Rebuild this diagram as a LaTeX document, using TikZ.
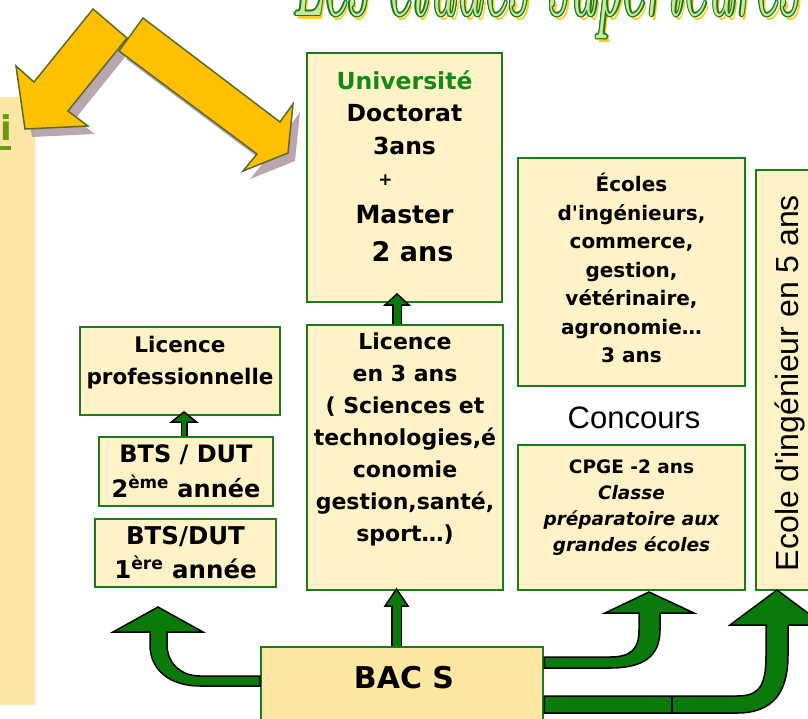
\documentclass[tikz,border=0pt]{standalone}
\usepackage{fontspec}
\newfontfamily\comicfont{DejaVu Sans}
\newfontfamily\arialfont{Liberation Sans}
\usetikzlibrary{positioning}

\definecolor{boxfill}{HTML}{FFF2C6}
\definecolor{bacfill}{HTML}{FFE6A2}
\definecolor{panelfill}{HTML}{FFE6A6}
\definecolor{boxgreen}{HTML}{1E7A1E}
\definecolor{arrowgreen}{HTML}{0A7A0A}
\definecolor{unigreen}{HTML}{148A14}
\definecolor{igreen}{HTML}{6A9A10}
\definecolor{bigyellow}{HTML}{FFC000}
\definecolor{arrowrim}{HTML}{5B6A28}
\definecolor{shadowmauve}{HTML}{A8909A}
\definecolor{titlegreen}{HTML}{1A7A1A}
\definecolor{titlelight}{HTML}{C8E8A0}
\definecolor{titleshadow}{HTML}{FFCC33}

\newcommand{\fsz}[2]{\fontsize{#1}{#2}\selectfont}
\newcommand{\bhead}[3]{\filldraw[arrowhead] ([xshift=-#2]#1) -- ([xshift=#2]#1) -- ([yshift=#3]#1) -- cycle;}

\tikzset{
  box/.style={draw=boxgreen, line width=2.5pt, fill=boxfill, inner sep=0pt},
  boxtext/.style 2 args={align=center, inner sep=0pt, font=\comicfont\bfseries\fsz{#1}{#2}},
  arrowhead/.style={fill=arrowgreen, draw=black, line width=1.5pt, line join=miter},
  bentarrow/.style={fill=arrowgreen, draw=black, line width=1.5pt, line join=miter},
  bigarrow/.style={fill=bigyellow, draw=arrowrim, line width=1.5pt, line join=miter},
  bigshadow/.style={fill=shadowmauve, opacity=0.8},
}

\begin{document}
\begin{tikzpicture}[x=1pt, y=-1pt]
\useasboundingbox (0,0) rectangle (808,718);
\clip (0,0) rectangle (808,718);

%title
\begin{scope}[shift={(292,15)}, xscale=0.445,
  every node/.style={anchor=base west, inner sep=0pt, transform shape, font=\fsz{120}{120}\itshape}]
  \node[text=titleshadow] (titleshade) at (6,4) {Les études supérieures};
  \foreach \dx/\dy [count=\k] in {-3/0,3/0,0/-1.3,0/1.3,-2/-1,2/-1,-2/1,2/1}
    \node[text=titlegreen] (titlerim\k) at (\dx,\dy) {Les études supérieures};
  \node[text=titlelight] (title) at (0,0) {Les études supérieures};
\end{scope}

%left panel
\fill[panelfill] (0,97) rectangle (35,705);
\node[font=\comicfont\bfseries\fsz{34}{34}, text=igreen, anchor=base east, inner sep=0pt] (ichar) at (12,140) {i};
\fill[igreen] (0,146) rectangle (11,150);

%yellow arrows
\fill[bigshadow, shift={(7,8)}] (93,9) -- (127,38) -- (68,111) -- (88,126) -- (25,129) -- (16,66) -- (34,82) -- cycle;
\filldraw[bigarrow] (93,9) -- (127,38) -- (68,111) -- (88,126) -- (25,129) -- (16,66) -- (34,82) -- cycle;
\fill[bigshadow, shift={(7,8)}] (143,18) -- (280,122) -- (293,104) -- (288,153) -- (243,171) -- (257,154) -- (119,51) -- cycle;
\filldraw[bigarrow] (143,18) -- (280,122) -- (293,104) -- (288,153) -- (243,171) -- (257,154) -- (119,51) -- cycle;

%boxes
\node[box, minimum width=195pt, minimum height=249pt] (univ) at (404.5,177.5) {};
\node[box, minimum width=196pt, minimum height=265pt] (licence) at (405,457.5) {};
\node[box, minimum width=227pt, minimum height=228pt] (ecoles) at (631.5,272) {};
\node[box, minimum width=227pt, minimum height=145pt] (cpge) at (631.5,517.5) {};
\node[box, minimum width=60pt, minimum height=420pt] (inge) at (786,380) {};
\node[box, minimum width=200pt, minimum height=88pt] (licpro) at (180,371) {};
\node[box, boxtext={24}{35}, minimum width=174pt, minimum height=69pt] (btstwo) at (186,471.5) {BTS / DUT\\2\textsuperscript{ème} année};
\node[box, boxtext={24.5}{34}, minimum width=181pt, minimum height=68pt] (btsone) at (185.5,553) {BTS/DUT\\1\textsuperscript{ère} année};
\node[box, fill=bacfill, minimum width=282pt, minimum height=80pt] (bac) at (402,687) {};

%texts
\node[boxtext={23.5}{32}, below=19pt of univ.north] (univtxt) {\textcolor{unigreen}{Université}\\[0pt]Doctorat\\[1pt]3ans\\[-1pt]{\fsz{17}{17}\hspace*{-38pt}+}\\[6pt]{\fsz{25}{30}Master}\\[6pt]{\fsz{27}{30}\hspace*{16pt}2 ans}};
\node[boxtext={22}{32}, below=9pt of licence.north] (licencetxt) {Licence\\en 3 ans\\( Sciences et\\technologies,é\\conomie\\gestion,santé,\\sport…)};
\node[boxtext={20}{28.5}, below=16pt of ecoles.north] (ecolestxt) {Écoles\\d'ingénieurs,\\commerce,\\gestion,\\vétérinaire,\\agronomie…\\3 ans};
\node[boxtext={18.5}{26}, below=16pt of cpge.north] (cpgetxt) {CPGE -2 ans\\{\itshape Classe}\\{\itshape préparatoire aux}\\{\itshape grandes écoles}};
\node[boxtext={21.5}{32}, below=10pt of licpro.north] (licprotxt) {Licence\\professionnelle};
\node[font=\arialfont\fsz{31}{31}] (concours) at (634,418) {Concours};
\node[font=\arialfont\fsz{32}{32}, rotate=90] (ingetxt) at (790,383) {Ecole d'ingénieur en 5 ans};
\node[boxtext={30}{30}] (bactxt) at (404,678) {BAC S};

%arrows
\coordinate (uphead) at (396.5,606);
\draw[line width=11pt, black] (bac.north -| uphead) -- (uphead);
\bhead{uphead}{11.5pt}{17pt}
\draw[line width=8pt, arrowgreen] (bac.north -| uphead) -- ([yshift=2pt]uphead);

\coordinate (unihead) at (397,305);
\draw[line width=10pt, black] (licence.north -| unihead) -- (unihead);
\bhead{unihead}{12pt}{11pt}
\draw[line width=7pt, arrowgreen] (licence.north -| unihead) -- ([yshift=2pt]unihead);

\coordinate (prohead) at (184,422);
\draw[line width=7pt, black] (btstwo.north -| prohead) -- (prohead);
\bhead{prohead}{12.5pt}{10pt}
\draw[line width=4pt, arrowgreen] (btstwo.north -| prohead) -- ([yshift=2pt]prohead);

%bent arrows out of the bac box
\filldraw[bentarrow] ([yshift=1pt]bac.west) -- (200,686) .. controls (170,686) and (150,670) .. (150,645) -- (150,632) -- (113,632) -- (158,607) -- (203,632) -- (167,632) -- (167,645) .. controls (167,662) and (180,676) .. (200,676) -- ([yshift=11pt]bac.west) -- cycle;
\filldraw[bentarrow] ([yshift=19pt]bac.east) -- (610,668) .. controls (645,668) and (660,655) .. (660,630) -- (660,613) -- (694,613) -- (649,592) -- (605,613) -- (639,613) -- (639,630) .. controls (639,650) and (630,657) .. (610,657) -- ([yshift=30pt]bac.east) -- cycle;
\filldraw[bentarrow] ([yshift=-26pt]bac.east) -- (737,713) .. controls (775,713) and (788,690) .. (788,655) -- (788,625) -- (824,625) -- (777,590) -- (730,625) -- (766,625) -- (766,655) .. controls (766,685) and (760,696) .. (737,696) -- ([yshift=-9pt]bac.east) -- cycle;
\draw[black, line width=2pt] ([xshift=128pt,yshift=-9pt]bac.east) -- ([xshift=128pt,yshift=-26pt]bac.east);
\end{tikzpicture}
\end{document}
